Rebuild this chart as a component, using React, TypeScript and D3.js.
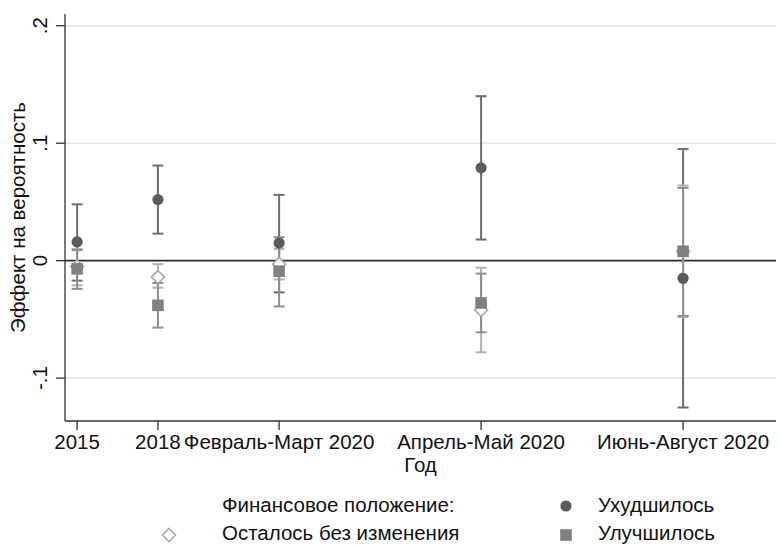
import React from "react";
import * as d3 from "d3";

// Survey periods and their positions on the horizontal axis
const periods = ["2015", "2018", "Февраль-Март 2020", "Апрель-Май 2020", "Июнь-Август 2020"];
const periodPos = [0, 0.4, 1, 2, 3];

// Effect estimates with confidence intervals, by change in financial situation
const worse = [0.016, 0.052, 0.015, 0.079, -0.015];
const worseLo = [-0.017, 0.023, -0.027, 0.018, -0.125];
const worseHi = [0.048, 0.081, 0.056, 0.14, 0.095];

const same = [-0.005, -0.014, -0.003, -0.042, 0.008];
const sameLo = [-0.021, -0.023, -0.016, -0.078, -0.048];
const sameHi = [0.01, -0.003, 0.01, -0.006, 0.064];

const better = [-0.007, -0.038, -0.009, -0.036, 0.008];
const betterLo = [-0.024, -0.057, -0.039, -0.061, -0.047];
const betterHi = [0.009, -0.019, 0.02, -0.011, 0.062];

const yTicks = [-0.1, 0, 0.1, 0.2];
const yTickLabels = ["-.1", "0", ".1", ".2"];

const W = 782;
const H = 545;
const left = 65;
const right = 776;
const top = 14;
const bottom = 421;

const FONT = "'Liberation Sans', Arial, sans-serif";
const FS = 20.5;

const x = d3.scaleLinear().domain([-0.06, 3.46]).range([left, right]);
const y = d3.scaleLinear().domain([-0.1365, 0.21]).range([bottom, top]);

const C_WORSE = "#5b5b5b";
const C_WORSE_CI = "#6e6e6e";
const C_SAME = "#a8a8a8";
const C_SAME_CI = "#b2b2b2";
const C_BETTER = "#808080";
const C_BETTER_CI = "#8e8e8e";

function ErrorBars({ lo, hi, color }: { lo: number[]; hi: number[]; color: string }) {
  const cap = 5.5;
  return (
    <g stroke={color} strokeWidth={2} fill="none">
      {periodPos.map((p, i) => {
        const cx = x(p);
        return (
          <g key={i}>
            <line x1={cx} x2={cx} y1={y(lo[i])} y2={y(hi[i])} />
            <line x1={cx - cap} x2={cx + cap} y1={y(lo[i])} y2={y(lo[i])} />
            <line x1={cx - cap} x2={cx + cap} y1={y(hi[i])} y2={y(hi[i])} />
          </g>
        );
      })}
    </g>
  );
}

const Circle = ({ cx, cy }: { cx: number; cy: number }) => (
  <circle cx={cx} cy={cy} r={5.6} fill={C_WORSE} />
);
const Square = ({ cx, cy }: { cx: number; cy: number }) => (
  <rect x={cx - 5.8} y={cy - 5.8} width={11.6} height={11.6} fill={C_BETTER} />
);
const Diamond = ({ cx, cy }: { cx: number; cy: number }) => (
  <path
    d={`M${cx},${cy - 6.5}L${cx + 6.5},${cy}L${cx},${cy + 6.5}L${cx - 6.5},${cy}Z`}
    fill="white"
    stroke={C_SAME}
    strokeWidth={1.6}
  />
);

export default function App() {
  return (
    <svg
      width={W}
      height={H}
      style={{ position: "absolute", left: 0, top: 0, background: "white" }}
      fontFamily={FONT}
    >
      <rect x={0} y={0} width={W} height={H} fill="white" />

      {/* gridlines */}
      {yTicks
        .filter((t) => t !== 0)
        .map((t) => (
          <line key={t} x1={left} x2={right} y1={y(t)} y2={y(t)} stroke="#e6e6e6" strokeWidth={1.6} />
        ))}

      {/* reference line at zero */}
      <line x1={left} x2={right} y1={y(0)} y2={y(0)} stroke="#2a2a2a" strokeWidth={1.6} />

      {/* axes */}
      <line x1={left} x2={left} y1={top} y2={bottom} stroke="#333" strokeWidth={1.3} />
      <line x1={left} x2={right} y1={bottom} y2={bottom} stroke="#333" strokeWidth={1.3} />

      {yTicks.map((t, i) => (
        <g key={t}>
          <line x1={left - 9} x2={left} y1={y(t)} y2={y(t)} stroke="#333" strokeWidth={1.3} />
          <text
            transform={`translate(${left - 18},${y(t)}) rotate(-90)`}
            textAnchor="middle"
            fontSize={FS}
            fill="#111"
          >
            {yTickLabels[i]}
          </text>
        </g>
      ))}

      {periodPos.map((p, i) => (
        <g key={i}>
          <line x1={x(p)} x2={x(p)} y1={bottom} y2={bottom + 9} stroke="#333" strokeWidth={1.3} />
          <text x={x(p)} y={bottom + 28} textAnchor="middle" fontSize={FS} fill="#111">
            {periods[i]}
          </text>
        </g>
      ))}

      <text x={(left + right) / 2} y={472} textAnchor="middle" fontSize={FS} fill="#111">
        Год
      </text>
      <text
        transform={`translate(25,${(top + bottom) / 2}) rotate(-90)`}
        textAnchor="middle"
        fontSize={FS}
        fill="#111"
      >
        Эффект на вероятность
      </text>

      {/* confidence intervals */}
      <ErrorBars lo={worseLo} hi={worseHi} color={C_WORSE_CI} />
      <ErrorBars lo={sameLo} hi={sameHi} color={C_SAME_CI} />
      <ErrorBars lo={betterLo} hi={betterHi} color={C_BETTER_CI} />

      {/* point estimates */}
      {periodPos.map((p, i) => (
        <Circle key={"w" + i} cx={x(p)} cy={y(worse[i])} />
      ))}
      {periodPos.map((p, i) => (
        <Diamond key={"s" + i} cx={x(p)} cy={y(same[i])} />
      ))}
      {periodPos.map((p, i) => (
        <Square key={"b" + i} cx={x(p)} cy={y(better[i])} />
      ))}

      {/* legend */}
      <g fontSize={FS} fill="#111">
        <text x={222} y={512}>Финансовое положение:</text>
        <Circle cx={566} cy={506} />
        <text x={598} y={512}>Ухудшилось</text>
        <Diamond cx={169} cy={535} />
        <text x={222} y={540}>Осталось без изменения</text>
        <Square cx={566} cy={535} />
        <text x={598} y={540}>Улучшилось</text>
      </g>
    </svg>
  );
}
